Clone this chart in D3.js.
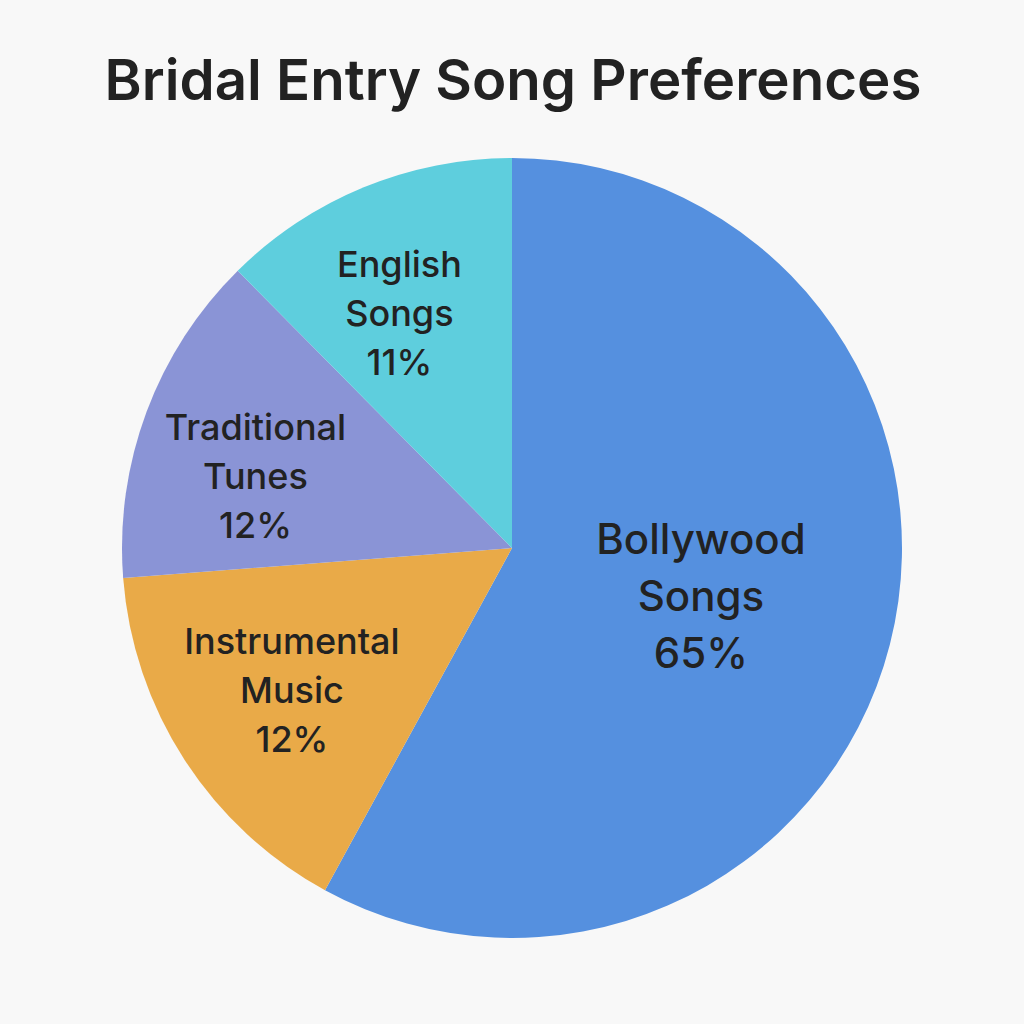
<!DOCTYPE html>
<html>
<head>
<meta charset="utf-8">
<script src="https://cdn.jsdelivr.net/npm/d3@7"></script>
<style>
  html, body { margin: 0; padding: 0; background: #f8f8f8; }
  svg { display: block; }
  text { font-family: Inter, "Noto Sans", sans-serif; fill: #222; }
</style>
</head>
<body>
<div id="chart"></div>
<script>
// categories, in draw order (clockwise from 12 o'clock)
const categories = ["Bollywood Songs", "Instrumental Music", "Traditional Tunes", "English Songs"];
// label lines inside each slice
const labelLines = [["Bollywood", "Songs"], ["Instrumental", "Music"], ["Traditional", "Tunes"], ["English", "Songs"]];
// printed percentages
const pctLabels = ["65%", "12%", "12%", "11%"];
// slice shares as drawn in the picture
const shares = [57.9, 15.8, 13.8, 12.4];
const colors = ["#5590df", "#e9aa48", "#8a94d6", "#5ecedd"];

const width = 1024, height = 1024;
const cx = 512, cy = 548, radius = 390;

// small shifts so the labels sit where the reference put them
const labelNudge = [[0, 0], [0, 0], [-11, 20], [-13, 7]];

const svg = d3.select("#chart").append("svg")
    .attr("width", width)
    .attr("height", height);

svg.append("rect")
    .attr("width", width)
    .attr("height", height)
    .attr("fill", "#f8f8f8");

// title, sized to span the same width as the reference
const title = svg.append("text")
    .attr("x", 513)
    .attr("y", 100)
    .attr("text-anchor", "middle")
    .style("font-size", "58px")
    .style("font-weight", 600)
    .text("Bridal Entry Song Preferences");
let tw = title.node().getComputedTextLength();
title.style("font-size", (58 * 817 / tw) + "px");

const data = categories.map((c, i) => ({ name: c, lines: labelLines[i], pct: pctLabels[i], value: shares[i], color: colors[i] }));

const pie = d3.pie()
    .sort(null)
    .value(d => d.value);

const arc = d3.arc()
    .innerRadius(0)
    .outerRadius(radius);

const bigLabelArc = d3.arc().innerRadius(radius * 0.5).outerRadius(radius * 0.5);
const smallLabelArc = d3.arc().innerRadius(radius * 0.672).outerRadius(radius * 0.672);

const g = svg.append("g")
    .attr("transform", "translate(" + cx + "," + cy + ")");

const arcs = pie(data);

g.selectAll(".slice")
    .data(arcs)
    .enter().append("path")
    .attr("class", "slice")
    .attr("d", arc)
    .attr("fill", d => d.data.color);

// labels: three lines, middle line centred on the label point
g.selectAll(".label")
    .data(arcs)
    .enter().append("text")
    .attr("class", "label")
    .attr("text-anchor", "middle")
    .each(function(d, i) {
        let big = i === 0;
        let pos = (big ? bigLabelArc : smallLabelArc).centroid(d);
        let x = pos[0] + labelNudge[i][0];
        let y = pos[1] + labelNudge[i][1];
        let size = big ? 42 : 36;
        let step = big ? 57 : 49;
        let lines = d.data.lines.concat([d.data.pct]);
        let t = d3.select(this)
            .style("font-size", size + "px")
            .style("font-weight", 500);
        lines.forEach((line, k) => {
            t.append("tspan")
                .attr("x", x)
                .attr("y", y + (k - 1) * step + size * 0.36)
                .text(line);
        });
    });
</script>
</body>
</html>
